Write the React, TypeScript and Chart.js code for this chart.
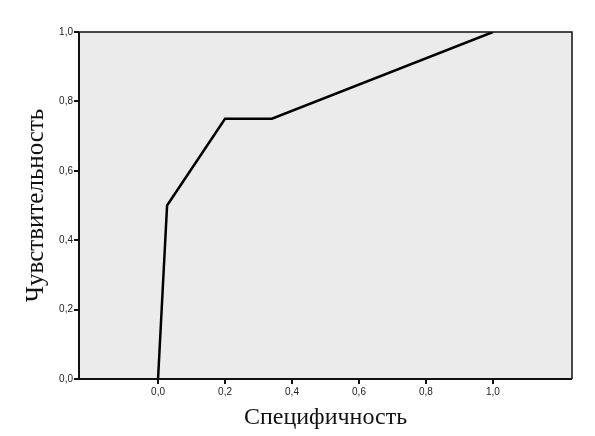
import React, { useEffect, useRef } from "react";
import { Chart, registerables } from "chart.js";

Chart.register(...registerables);

const specificity = [0, 0.027, 0.2, 0.34, 1.0];
const sensitivity = [0, 0.5, 0.75, 0.75, 1.0];
const xTickValues = [0, 0.2, 0.4, 0.6, 0.8, 1.0];
const yTickValues = [0, 0.2, 0.4, 0.6, 0.8, 1.0];
const xTitle = "Специфичность";
const yTitle = "Чувствительность";

const fmt = (v: number) => v.toFixed(1).replace(".", ",");

const plotBox = {
  id: "plotBox",
  beforeDraw(chart: any) {
    const { ctx, chartArea } = chart;
    const { left, top, right, bottom } = chartArea;
    ctx.save();
    ctx.fillStyle = "#ebebeb";
    ctx.fillRect(left, top, right - left, bottom - top);
    ctx.restore();
  },
  afterDatasetsDraw(chart: any) {
    const { ctx, chartArea } = chart;
    const { left, top, right, bottom } = chartArea;
    ctx.save();
    ctx.strokeStyle = "#111";
    ctx.lineWidth = 1.5;
    ctx.beginPath();
    ctx.moveTo(left, top);
    ctx.lineTo(right, top);
    ctx.lineTo(right, bottom);
    ctx.stroke();
    ctx.lineWidth = 2;
    ctx.beginPath();
    ctx.moveTo(left, top);
    ctx.lineTo(left, bottom);
    ctx.lineTo(right, bottom);
    ctx.stroke();
    ctx.restore();
  },
};

export default function App() {
  const ref = useRef<HTMLCanvasElement | null>(null);
  useEffect(() => {
    if (!ref.current) return;
    const chart = new Chart(ref.current, {
      type: "scatter",
      data: {
        datasets: [
          {
            data: specificity.map((x, i) => ({ x, y: sensitivity[i] })),
            showLine: true,
            borderColor: "#000",
            borderWidth: 2.5,
            pointRadius: 0,
            tension: 0,
          },
        ],
      },
      options: {
        animation: false,
        responsive: false,
        maintainAspectRatio: false,
        layout: { padding: { left: 0, right: 23, top: 32, bottom: 0 } },
        plugins: { legend: { display: false }, tooltip: { enabled: false } },
        scales: {
          x: {
            type: "linear",
            min: -0.236,
            max: 1.236,
            afterBuildTicks: (s: any) => {
              s.ticks = xTickValues.map((v) => ({ value: v }));
            },
            afterFit: (s: any) => {
              s.height = 57;
            },
            ticks: {
              callback: (v: any) => fmt(Number(v)),
              font: { family: "Liberation Sans, Arial", size: 10 },
              color: "#222",
              padding: 2,
              maxRotation: 0,
            },
            grid: {
              drawOnChartArea: false,
              drawTicks: true,
              tickLength: 5,
              color: "#111",
              lineWidth: 2,
            },
            border: { display: false },
            title: {
              display: true,
              text: xTitle,
              font: { family: "Liberation Serif, Times New Roman", size: 24 },
              color: "#111",
              padding: { top: 0, bottom: 4 },
            },
          },
          y: {
            type: "linear",
            min: 0,
            max: 1,
            afterBuildTicks: (s: any) => {
              s.ticks = yTickValues.map((v) => ({ value: v }));
            },
            afterFit: (s: any) => {
              s.width = 79;
            },
            ticks: {
              callback: (v: any) => fmt(Number(v)),
              font: { family: "Liberation Sans, Arial", size: 10 },
              color: "#222",
              padding: 1,
            },
            grid: {
              drawOnChartArea: false,
              drawTicks: true,
              tickLength: 5,
              color: "#111",
              lineWidth: 2,
            },
            border: { display: false },
            title: {
              display: true,
              text: yTitle,
              font: { family: "Liberation Serif, Times New Roman", size: 25 },
              color: "#111",
              padding: { top: 21, bottom: 0 },
            },
          },
        },
      },
      plugins: [plotBox],
    });
    return () => chart.destroy();
  }, []);
  return (
    <div style={{ position: "fixed", left: 0, top: 0, width: 595, height: 436, background: "#fff" }}>
      <canvas ref={ref} width={595} height={436} style={{ display: "block" }} />
    </div>
  );
}
